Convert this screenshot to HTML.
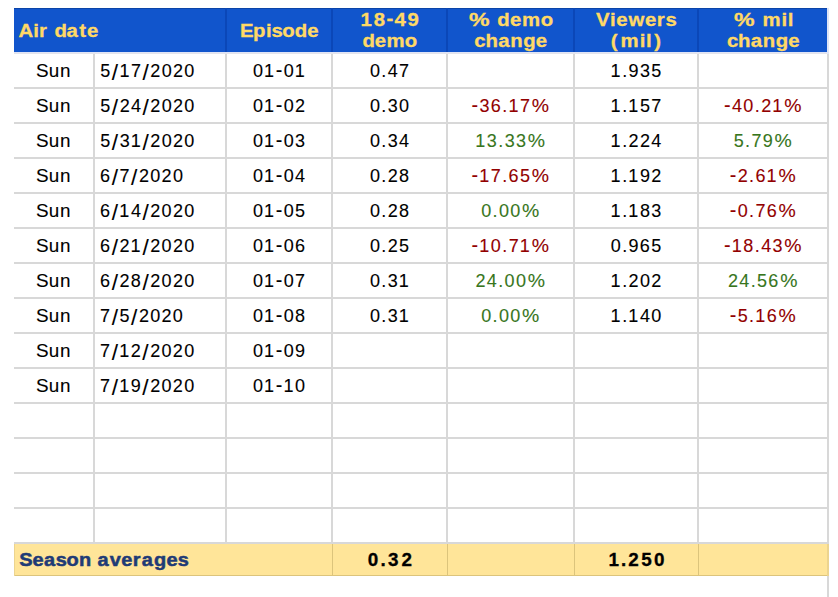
<!DOCTYPE html>
<html><head><meta charset="utf-8"><style>
html,body{margin:0;padding:0;background:#fff;width:838px;height:597px;overflow:hidden}
svg{display:block;font-family:"Liberation Sans",sans-serif}
</style></head><body>
<svg width="838" height="597" viewBox="0 0 838 597">
<rect x="0" y="0" width="838" height="597" fill="#fff"/>
<rect x="14" y="8" width="813" height="44" fill="#1155cc"/>
<rect x="14" y="8" width="813" height="1" fill="#0b44a8"/>
<rect x="225" y="8" width="2" height="44" fill="#0b47b8"/>
<rect x="331" y="8" width="2" height="44" fill="#0b47b8"/>
<rect x="446" y="8" width="2" height="44" fill="#0b47b8"/>
<rect x="573" y="8" width="2" height="44" fill="#0b47b8"/>
<rect x="697" y="8" width="2" height="44" fill="#0b47b8"/>
<rect x="14" y="52" width="815" height="1" fill="#dfe4f6"/>
<rect x="14" y="53" width="815" height="1" fill="#e4e4ea"/>
<rect x="827" y="8" width="2" height="46" fill="#dfe4f6"/>
<rect x="14" y="87" width="815" height="2" fill="#d8d8d8"/>
<rect x="14" y="122" width="815" height="2" fill="#d8d8d8"/>
<rect x="14" y="157" width="815" height="2" fill="#d8d8d8"/>
<rect x="14" y="192" width="815" height="2" fill="#d8d8d8"/>
<rect x="14" y="227" width="815" height="2" fill="#d8d8d8"/>
<rect x="14" y="262" width="815" height="2" fill="#d8d8d8"/>
<rect x="14" y="297" width="815" height="2" fill="#d8d8d8"/>
<rect x="14" y="332" width="815" height="2" fill="#d8d8d8"/>
<rect x="14" y="367" width="815" height="2" fill="#d8d8d8"/>
<rect x="14" y="402" width="815" height="2" fill="#d8d8d8"/>
<rect x="14" y="437" width="815" height="2" fill="#d8d8d8"/>
<rect x="14" y="472" width="815" height="2" fill="#d8d8d8"/>
<rect x="14" y="507" width="815" height="2" fill="#d8d8d8"/>
<rect x="14" y="542" width="815" height="2" fill="#d8d8d8"/>
<rect x="93" y="54" width="2" height="490" fill="#d8d8d8"/>
<rect x="225" y="54" width="2" height="490" fill="#d8d8d8"/>
<rect x="331" y="54" width="2" height="490" fill="#d8d8d8"/>
<rect x="446" y="54" width="2" height="490" fill="#d8d8d8"/>
<rect x="573" y="54" width="2" height="490" fill="#d8d8d8"/>
<rect x="697" y="54" width="2" height="490" fill="#d8d8d8"/>
<rect x="827" y="54" width="2" height="543" fill="#d8d8d8"/>
<rect x="14" y="544" width="815" height="32" fill="#ffe599"/>
<rect x="14" y="575" width="815" height="1" fill="#dcc47c"/>
<rect x="14" y="544" width="1" height="32" fill="#ecd48f"/>
<rect x="332" y="544" width="1" height="32" fill="#dcc47c"/>
<rect x="447" y="544" width="1" height="32" fill="#dcc47c"/>
<rect x="574" y="544" width="1" height="32" fill="#dcc47c"/>
<rect x="698" y="544" width="1" height="32" fill="#dcc47c"/>
<rect x="827" y="544" width="2" height="32" fill="#ecd48f"/>
<g font-family="Liberation Sans, sans-serif">
<text x="16.90 30.13 35.47 49.46 60.56 72.13 79.16" y="37.00" transform="scale(1.1000,1)" fill="#ffd966" font-size="18.50" font-weight="bold" stroke="#ffd966" stroke-width="0.3">Airdate</text>
<text x="218.22 229.97 241.73 246.78 256.60 268.06 279.34" y="37.00" transform="scale(1.1000,1)" fill="#ffd966" font-size="18.50" font-weight="bold" stroke="#ffd966" stroke-width="0.3">Episode</text>
<text x="327.83 339.79 358.74 370.49" y="26.00" transform="scale(1.1000,1)" fill="#ffd966" font-size="18.50" font-weight="bold" stroke="#ffd966" stroke-width="0.3">1849</text><text x="351.39" y="25.20" transform="scale(1.1000,1)" fill="#ffd966" font-size="18.50" font-weight="bold" stroke="#ffd966" stroke-width="0.3">-</text>
<text x="329.51 340.67 351.38 367.97" y="47.50" transform="scale(1.1000,1)" fill="#ffd966" font-size="18.50" font-weight="bold" stroke="#ffd966" stroke-width="0.3">demo</text>
<text x="375.22" y="26.00" transform="scale(1.2500,1)" fill="#ffd966" font-size="18.50" font-weight="bold" stroke="#ffd966" stroke-width="0.3">%</text><text x="452.13 463.57 474.65 491.60" y="26.00" transform="scale(1.1000,1)" fill="#ffd966" font-size="18.50" font-weight="bold" stroke="#ffd966" stroke-width="0.3">demo</text>
<text x="431.19 441.34 452.88 463.96 475.79 487.16" y="47.50" transform="scale(1.1000,1)" fill="#ffd966" font-size="18.50" font-weight="bold" stroke="#ffd966" stroke-width="0.3">change</text>
<text x="541.78 554.61 560.27 571.37 586.45 597.14 605.11" y="26.00" transform="scale(1.1000,1)" fill="#ffd966" font-size="18.50" font-weight="bold" stroke="#ffd966" stroke-width="0.3">Viewers</text>
<text x="555.35 564.08 581.54 587.30 594.67" y="47.50" transform="scale(1.1000,1)" fill="#ffd966" font-size="18.50" font-weight="bold" stroke="#ffd966" stroke-width="0.3">(mil)</text>
<text x="587.14" y="26.00" transform="scale(1.2500,1)" fill="#ffd966" font-size="18.50" font-weight="bold" stroke="#ffd966" stroke-width="0.3">%</text><text x="693.17 710.43 716.08" y="26.00" transform="scale(1.1000,1)" fill="#ffd966" font-size="18.50" font-weight="bold" stroke="#ffd966" stroke-width="0.3">mil</text>
<text x="660.82 670.94 682.45 693.49 705.28 716.62" y="47.50" transform="scale(1.1000,1)" fill="#ffd966" font-size="18.50" font-weight="bold" stroke="#ffd966" stroke-width="0.3">change</text>
<text x="34.23 46.39 57.09" y="77.00" transform="scale(1.0500,1)" fill="#000" font-size="18.00" stroke="#000" stroke-width="0.10">Sun</text>
<text x="100.28 119.41 130.97 150.37 161.69 173.00 184.32" y="77.00" fill="#000" font-size="18.00" stroke="#000" stroke-width="0.10">5172020</text><text x="111.83 142.54" y="80.10" fill="#000" font-size="22.60" stroke="#000" stroke-width="0.10">//</text>
<text x="252.98 264.05 283.69 294.76" y="77.00" fill="#000" font-size="18.00" stroke="#000" stroke-width="0.10">0101</text><text x="313.30" y="76.80" transform="scale(0.8800,1)" fill="#000" font-size="22.50" stroke="#000" stroke-width="0.10">-</text>
<text x="369.94 381.34 387.79 399.04" y="77.00" fill="#000" font-size="18.00" stroke="#000" stroke-width="0.10">0.47</text>
<text x="610.54 622.18 628.58 639.94 651.22" y="77.00" fill="#000" font-size="18.00" stroke="#000" stroke-width="0.10">1.935</text>
<text x="34.23 46.39 57.09" y="112.00" transform="scale(1.0500,1)" fill="#000" font-size="18.00" stroke="#000" stroke-width="0.10">Sun</text>
<text x="100.28 119.66 131.03 150.37 161.69 173.00 184.32" y="112.00" fill="#000" font-size="18.00" stroke="#000" stroke-width="0.10">5242020</text><text x="111.83 142.54" y="115.10" fill="#000" font-size="22.60" stroke="#000" stroke-width="0.10">//</text>
<text x="252.98 264.05 283.69 295.01" y="112.00" fill="#000" font-size="18.00" stroke="#000" stroke-width="0.10">0102</text><text x="313.30" y="111.80" transform="scale(0.8800,1)" fill="#000" font-size="22.50" stroke="#000" stroke-width="0.10">-</text>
<text x="369.94 381.34 387.79 399.05" y="112.00" fill="#000" font-size="18.00" stroke="#000" stroke-width="0.10">0.30</text>
<text x="535.85" y="111.80" transform="scale(0.8800,1)" fill="#920000" font-size="22.50" stroke="#920000" stroke-width="0.10">-</text><text x="479.59 490.79 502.25 508.40 519.95" y="112.00" fill="#920000" font-size="18.00" stroke="#920000" stroke-width="0.10">36.17</text><text x="492.38" y="112.00" transform="scale(1.0800,1)" fill="#920000" font-size="18.00" stroke="#920000" stroke-width="0.10">%</text>
<text x="610.54 622.18 628.33 639.91 651.20" y="112.00" fill="#000" font-size="18.00" stroke="#000" stroke-width="0.10">1.157</text>
<text x="822.78" y="111.80" transform="scale(0.8800,1)" fill="#920000" font-size="22.50" stroke="#920000" stroke-width="0.10">-</text><text x="732.09 743.35 754.75 761.14 772.21" y="112.00" fill="#920000" font-size="18.00" stroke="#920000" stroke-width="0.10">40.21</text><text x="726.17" y="112.00" transform="scale(1.0800,1)" fill="#920000" font-size="18.00" stroke="#920000" stroke-width="0.10">%</text>
<text x="34.23 46.39 57.09" y="147.00" transform="scale(1.0500,1)" fill="#000" font-size="18.00" stroke="#000" stroke-width="0.10">Sun</text>
<text x="100.28 119.71 130.73 150.37 161.69 173.00 184.32" y="147.00" fill="#000" font-size="18.00" stroke="#000" stroke-width="0.10">5312020</text><text x="111.83 142.54" y="150.10" fill="#000" font-size="22.60" stroke="#000" stroke-width="0.10">//</text>
<text x="252.98 264.05 283.69 295.06" y="147.00" fill="#000" font-size="18.00" stroke="#000" stroke-width="0.10">0103</text><text x="313.30" y="146.80" transform="scale(0.8800,1)" fill="#000" font-size="22.50" stroke="#000" stroke-width="0.10">-</text>
<text x="369.94 381.34 387.79 399.11" y="147.00" fill="#000" font-size="18.00" stroke="#000" stroke-width="0.10">0.34</text>
<text x="475.25 486.86 498.21 504.65 515.97" y="147.00" fill="#38761d" font-size="18.00" stroke="#38761d" stroke-width="0.10">13.33</text><text x="488.64" y="147.00" transform="scale(1.0800,1)" fill="#38761d" font-size="18.00" stroke="#38761d" stroke-width="0.10">%</text>
<text x="610.54 622.18 628.57 639.89 651.26" y="147.00" fill="#000" font-size="18.00" stroke="#000" stroke-width="0.10">1.224</text>
<text x="733.67 745.05 751.43 762.76" y="147.00" fill="#38761d" font-size="18.00" stroke="#38761d" stroke-width="0.10">5.79</text><text x="717.19" y="147.00" transform="scale(1.0800,1)" fill="#38761d" font-size="18.00" stroke="#38761d" stroke-width="0.10">%</text>
<text x="34.23 46.39 57.09" y="182.00" transform="scale(1.0500,1)" fill="#000" font-size="18.00" stroke="#000" stroke-width="0.10">Sun</text>
<text x="100.09 119.54 138.94 150.26 161.58 172.89" y="182.00" fill="#000" font-size="18.00" stroke="#000" stroke-width="0.10">672020</text><text x="111.71 131.11" y="185.10" fill="#000" font-size="22.60" stroke="#000" stroke-width="0.10">//</text>
<text x="252.98 264.05 283.69 295.07" y="182.00" fill="#000" font-size="18.00" stroke="#000" stroke-width="0.10">0104</text><text x="313.30" y="181.80" transform="scale(0.8800,1)" fill="#000" font-size="22.50" stroke="#000" stroke-width="0.10">-</text>
<text x="369.94 381.34 387.73 399.05" y="182.00" fill="#000" font-size="18.00" stroke="#000" stroke-width="0.10">0.28</text>
<text x="535.85" y="181.80" transform="scale(0.8800,1)" fill="#920000" font-size="22.50" stroke="#920000" stroke-width="0.10">-</text><text x="479.29 490.84 502.25 508.58 519.97" y="182.00" fill="#920000" font-size="18.00" stroke="#920000" stroke-width="0.10">17.65</text><text x="492.38" y="182.00" transform="scale(1.0800,1)" fill="#920000" font-size="18.00" stroke="#920000" stroke-width="0.10">%</text>
<text x="610.54 622.18 628.33 639.89 651.21" y="182.00" fill="#000" font-size="18.00" stroke="#000" stroke-width="0.10">1.192</text>
<text x="829.21" y="181.80" transform="scale(0.8800,1)" fill="#920000" font-size="22.50" stroke="#920000" stroke-width="0.10">-</text><text x="737.69 749.09 755.42 766.55" y="182.00" fill="#920000" font-size="18.00" stroke="#920000" stroke-width="0.10">2.61</text><text x="720.94" y="182.00" transform="scale(1.0800,1)" fill="#920000" font-size="18.00" stroke="#920000" stroke-width="0.10">%</text>
<text x="34.23 46.39 57.09" y="217.00" transform="scale(1.0500,1)" fill="#000" font-size="18.00" stroke="#000" stroke-width="0.10">Sun</text>
<text x="100.09 119.30 130.92 150.26 161.58 172.89 184.21" y="217.00" fill="#000" font-size="18.00" stroke="#000" stroke-width="0.10">6142020</text><text x="111.71 142.43" y="220.10" fill="#000" font-size="22.60" stroke="#000" stroke-width="0.10">//</text>
<text x="252.98 264.05 283.69 295.03" y="217.00" fill="#000" font-size="18.00" stroke="#000" stroke-width="0.10">0105</text><text x="313.30" y="216.80" transform="scale(0.8800,1)" fill="#000" font-size="22.50" stroke="#000" stroke-width="0.10">-</text>
<text x="369.94 381.34 387.73 399.05" y="217.00" fill="#000" font-size="18.00" stroke="#000" stroke-width="0.10">0.28</text>
<text x="481.15 492.55 498.94 510.26" y="217.00" fill="#38761d" font-size="18.00" stroke="#38761d" stroke-width="0.10">0.00</text><text x="483.40" y="217.00" transform="scale(1.0800,1)" fill="#38761d" font-size="18.00" stroke="#38761d" stroke-width="0.10">%</text>
<text x="610.54 622.18 628.33 639.89 651.26" y="217.00" fill="#000" font-size="18.00" stroke="#000" stroke-width="0.10">1.183</text>
<text x="829.21" y="216.80" transform="scale(0.8800,1)" fill="#920000" font-size="22.50" stroke="#920000" stroke-width="0.10">-</text><text x="737.69 749.09 755.48 766.74" y="217.00" fill="#920000" font-size="18.00" stroke="#920000" stroke-width="0.10">0.76</text><text x="720.94" y="217.00" transform="scale(1.0800,1)" fill="#920000" font-size="18.00" stroke="#920000" stroke-width="0.10">%</text>
<text x="34.23 46.39 57.09" y="252.00" transform="scale(1.0500,1)" fill="#000" font-size="18.00" stroke="#000" stroke-width="0.10">Sun</text>
<text x="100.09 119.55 130.62 150.26 161.58 172.89 184.21" y="252.00" fill="#000" font-size="18.00" stroke="#000" stroke-width="0.10">6212020</text><text x="111.71 142.43" y="255.10" fill="#000" font-size="22.60" stroke="#000" stroke-width="0.10">//</text>
<text x="252.98 264.05 283.69 294.95" y="252.00" fill="#000" font-size="18.00" stroke="#000" stroke-width="0.10">0106</text><text x="313.30" y="251.80" transform="scale(0.8800,1)" fill="#000" font-size="22.50" stroke="#000" stroke-width="0.10">-</text>
<text x="369.94 381.34 387.73 399.07" y="252.00" fill="#000" font-size="18.00" stroke="#000" stroke-width="0.10">0.25</text>
<text x="535.85" y="251.80" transform="scale(0.8800,1)" fill="#920000" font-size="22.50" stroke="#920000" stroke-width="0.10">-</text><text x="479.29 490.85 502.25 508.63 519.71" y="252.00" fill="#920000" font-size="18.00" stroke="#920000" stroke-width="0.10">10.71</text><text x="492.38" y="252.00" transform="scale(1.0800,1)" fill="#920000" font-size="18.00" stroke="#920000" stroke-width="0.10">%</text>
<text x="610.78 622.18 628.58 639.83 651.22" y="252.00" fill="#000" font-size="18.00" stroke="#000" stroke-width="0.10">0.965</text>
<text x="822.78" y="251.80" transform="scale(0.8800,1)" fill="#920000" font-size="22.50" stroke="#920000" stroke-width="0.10">-</text><text x="731.79 743.35 754.75 761.20 772.51" y="252.00" fill="#920000" font-size="18.00" stroke="#920000" stroke-width="0.10">18.43</text><text x="726.17" y="252.00" transform="scale(1.0800,1)" fill="#920000" font-size="18.00" stroke="#920000" stroke-width="0.10">%</text>
<text x="34.23 46.39 57.09" y="287.00" transform="scale(1.0500,1)" fill="#000" font-size="18.00" stroke="#000" stroke-width="0.10">Sun</text>
<text x="100.09 119.55 130.86 150.26 161.58 172.89 184.21" y="287.00" fill="#000" font-size="18.00" stroke="#000" stroke-width="0.10">6282020</text><text x="111.71 142.43" y="290.10" fill="#000" font-size="22.60" stroke="#000" stroke-width="0.10">//</text>
<text x="252.98 264.05 283.69 295.00" y="287.00" fill="#000" font-size="18.00" stroke="#000" stroke-width="0.10">0107</text><text x="313.30" y="286.80" transform="scale(0.8800,1)" fill="#000" font-size="22.50" stroke="#000" stroke-width="0.10">-</text>
<text x="369.94 381.34 387.79 398.80" y="287.00" fill="#000" font-size="18.00" stroke="#000" stroke-width="0.10">0.31</text>
<text x="475.49 486.87 498.21 504.60 515.92" y="287.00" fill="#38761d" font-size="18.00" stroke="#38761d" stroke-width="0.10">24.00</text><text x="488.64" y="287.00" transform="scale(1.0800,1)" fill="#38761d" font-size="18.00" stroke="#38761d" stroke-width="0.10">%</text>
<text x="610.54 622.18 628.57 639.89 651.21" y="287.00" fill="#000" font-size="18.00" stroke="#000" stroke-width="0.10">1.202</text>
<text x="727.99 739.37 750.71 757.12 768.35" y="287.00" fill="#38761d" font-size="18.00" stroke="#38761d" stroke-width="0.10">24.56</text><text x="722.43" y="287.00" transform="scale(1.0800,1)" fill="#38761d" font-size="18.00" stroke="#38761d" stroke-width="0.10">%</text>
<text x="34.23 46.39 57.09" y="322.00" transform="scale(1.0500,1)" fill="#000" font-size="18.00" stroke="#000" stroke-width="0.10">Sun</text>
<text x="100.08 119.50 138.88 150.20 161.51 172.83" y="322.00" fill="#000" font-size="18.00" stroke="#000" stroke-width="0.10">752020</text><text x="111.65 131.05" y="325.10" fill="#000" font-size="22.60" stroke="#000" stroke-width="0.10">//</text>
<text x="252.98 264.05 283.69 295.01" y="322.00" fill="#000" font-size="18.00" stroke="#000" stroke-width="0.10">0108</text><text x="313.30" y="321.80" transform="scale(0.8800,1)" fill="#000" font-size="22.50" stroke="#000" stroke-width="0.10">-</text>
<text x="369.94 381.34 387.79 398.80" y="322.00" fill="#000" font-size="18.00" stroke="#000" stroke-width="0.10">0.31</text>
<text x="481.15 492.55 498.94 510.26" y="322.00" fill="#38761d" font-size="18.00" stroke="#38761d" stroke-width="0.10">0.00</text><text x="483.40" y="322.00" transform="scale(1.0800,1)" fill="#38761d" font-size="18.00" stroke="#38761d" stroke-width="0.10">%</text>
<text x="610.54 622.18 628.33 639.95 651.21" y="322.00" fill="#000" font-size="18.00" stroke="#000" stroke-width="0.10">1.140</text>
<text x="829.21" y="321.80" transform="scale(0.8800,1)" fill="#920000" font-size="22.50" stroke="#920000" stroke-width="0.10">-</text><text x="737.71 749.09 755.24 766.74" y="322.00" fill="#920000" font-size="18.00" stroke="#920000" stroke-width="0.10">5.16</text><text x="720.94" y="322.00" transform="scale(1.0800,1)" fill="#920000" font-size="18.00" stroke="#920000" stroke-width="0.10">%</text>
<text x="34.23 46.39 57.09" y="357.00" transform="scale(1.0500,1)" fill="#000" font-size="18.00" stroke="#000" stroke-width="0.10">Sun</text>
<text x="100.08 119.24 130.80 150.20 161.51 172.83 184.14" y="357.00" fill="#000" font-size="18.00" stroke="#000" stroke-width="0.10">7122020</text><text x="111.65 142.36" y="360.10" fill="#000" font-size="22.60" stroke="#000" stroke-width="0.10">//</text>
<text x="252.98 264.05 283.69 295.01" y="357.00" fill="#000" font-size="18.00" stroke="#000" stroke-width="0.10">0109</text><text x="313.30" y="356.80" transform="scale(0.8800,1)" fill="#000" font-size="22.50" stroke="#000" stroke-width="0.10">-</text>
<text x="34.23 46.39 57.09" y="392.00" transform="scale(1.0500,1)" fill="#000" font-size="18.00" stroke="#000" stroke-width="0.10">Sun</text>
<text x="100.08 119.24 130.80 150.20 161.51 172.83 184.14" y="392.00" fill="#000" font-size="18.00" stroke="#000" stroke-width="0.10">7192020</text><text x="111.65 142.36" y="395.10" fill="#000" font-size="22.60" stroke="#000" stroke-width="0.10">//</text>
<text x="252.98 264.05 283.45 295.01" y="392.00" fill="#000" font-size="18.00" stroke="#000" stroke-width="0.10">0110</text><text x="313.30" y="391.80" transform="scale(0.8800,1)" fill="#000" font-size="22.50" stroke="#000" stroke-width="0.10">-</text>
<text x="17.80 30.03 40.74 51.53 61.54 73.05 90.29 101.52 112.34 123.04 131.25 142.60 154.07 164.54" y="566.00" transform="scale(1.0800,1)" fill="#1f3b76" font-size="18.50" font-weight="bold" stroke="#1f3b76" stroke-width="0.5">Seasonaverages</text>
<text x="360.44 372.98 380.48 393.59" y="566.00" transform="scale(1.0200,1)" fill="#000" font-size="18.50" font-weight="bold" stroke="#000" stroke-width="0.3">0.32</text>
<text x="596.48 608.95 615.98 628.56 641.25" y="566.00" transform="scale(1.0200,1)" fill="#000" font-size="18.50" font-weight="bold" stroke="#000" stroke-width="0.3">1.250</text>
</g>
</svg>
</body></html>
